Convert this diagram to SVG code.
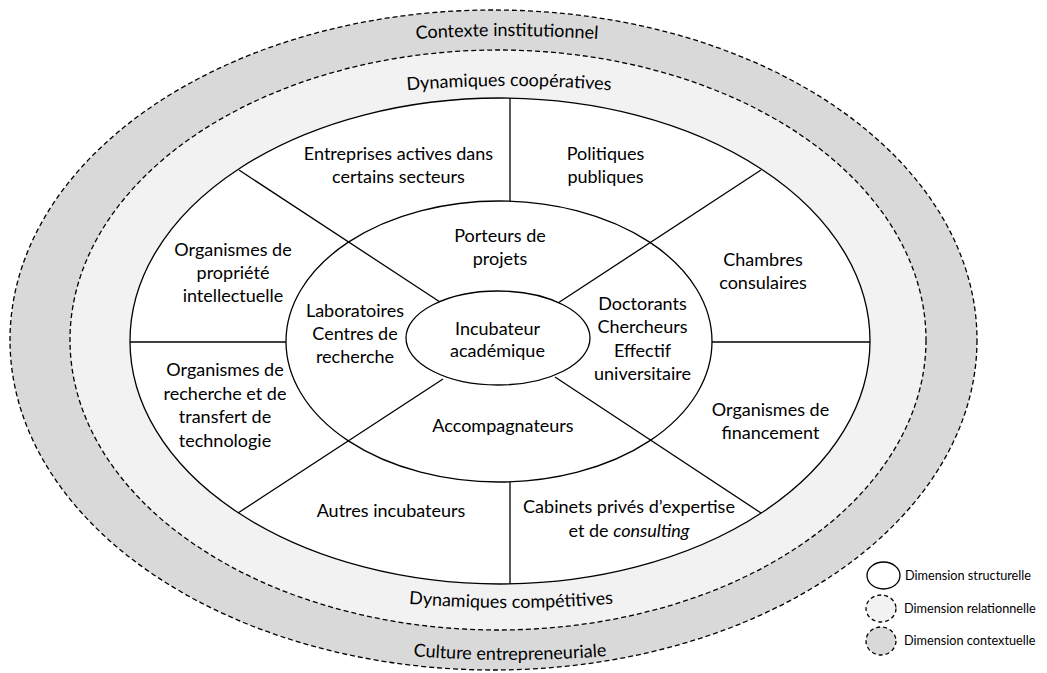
<svg xmlns="http://www.w3.org/2000/svg" width="1047" height="673" viewBox="0 0 1047 673">
<style>
.t{font-family:Lato,"Open Sans","Liberation Sans",sans-serif;font-size:18px;fill:#000;text-anchor:middle}
.lg{font-family:Lato,"Open Sans","Liberation Sans",sans-serif;font-size:12.7px;fill:#000}
.dash{stroke:#000;stroke-width:1.3;stroke-dasharray:5 3}
.solid{stroke:#000;stroke-width:1.3}
.ln{stroke:#000;stroke-width:1.3;fill:none}
</style>
<defs>
<path id="p1" d="M 380 42 Q 507 30 634 42"/>
<path id="p2" d="M 380 93 Q 509 79 638 93"/>
<path id="p3" d="M 380 601 Q 511 615 642 601"/>
<path id="p4" d="M 380 653 Q 510 667 640 653"/>
</defs>
<rect width="1047" height="673" fill="#fff"/>
<g id="contextuelle">
<ellipse cx="493.5" cy="340" rx="483.5" ry="330" fill="#d9d9d9" class="dash"/>
<text class="t"><textPath href="#p1" startOffset="50%">Contexte institutionnel</textPath></text>
<text class="t"><textPath href="#p4" startOffset="50%">Culture entrepreneuriale</textPath></text>
</g>
<g id="relationnelle">
<ellipse cx="498" cy="340" rx="428" ry="290" fill="#f2f2f2" class="dash"/>
<text class="t"><textPath href="#p2" startOffset="50%">Dynamiques coopératives</textPath></text>
<text class="t"><textPath href="#p3" startOffset="50%">Dynamiques compétitives</textPath></text>
</g>
<g id="structurelle">
<ellipse cx="500" cy="341" rx="370" ry="243" fill="#fff" class="solid"/>
</g>
<g id="acteurs-proches">
<ellipse cx="499" cy="341.5" rx="213" ry="140.5" fill="none" class="solid"/>
</g>
<g id="connectors">
<line class="ln" x1="510" y1="98" x2="510" y2="201"/>
<line class="ln" x1="510" y1="482" x2="510" y2="584"/>
<line class="ln" x1="130" y1="342" x2="286" y2="342"/>
<line class="ln" x1="712" y1="342" x2="870" y2="342"/>
<line class="ln" x1="239" y1="170" x2="440" y2="302"/>
<line class="ln" x1="761" y1="170" x2="558" y2="303"/>
<line class="ln" x1="238" y1="513" x2="443" y2="379"/>
<line class="ln" x1="761" y1="513" x2="555" y2="377"/>
</g>
<g id="incubateur">
<ellipse cx="498" cy="338" rx="92" ry="47" fill="#fff" class="solid"/>
<text class="t" x="497.5" y="335">Incubateur</text>
<text class="t" x="497.5" y="357">académique</text>
</g>
<g id="entreprises">
<text class="t" x="398.5" y="160">Entreprises actives dans</text>
<text class="t" x="398.5" y="183">certains secteurs</text>
</g>
<g id="politiques">
<text class="t" x="605.5" y="160">Politiques</text>
<text class="t" x="605.5" y="183">publiques</text>
</g>
<g id="propriete">
<text class="t" x="233" y="256">Organismes de</text>
<text class="t" x="233" y="279">propriété</text>
<text class="t" x="233" y="302">intellectuelle</text>
</g>
<g id="porteurs">
<text class="t" x="500" y="242">Porteurs de</text>
<text class="t" x="500" y="265">projets</text>
</g>
<g id="chambres">
<text class="t" x="763" y="266">Chambres</text>
<text class="t" x="763" y="289">consulaires</text>
</g>
<g id="laboratoires">
<text class="t" x="355" y="317">Laboratoires</text>
<text class="t" x="355" y="340">Centres de</text>
<text class="t" x="355" y="363">recherche</text>
</g>
<g id="doctorants">
<text class="t" x="642.5" y="310">Doctorants</text>
<text class="t" x="642.5" y="333">Chercheurs</text>
<text class="t" x="642.5" y="357">Effectif</text>
<text class="t" x="642.5" y="380">universitaire</text>
</g>
<g id="recherche-transfert">
<text class="t" x="225" y="376">Organismes de</text>
<text class="t" x="225" y="400">recherche et de</text>
<text class="t" x="225" y="423">transfert de</text>
<text class="t" x="225" y="447">technologie</text>
</g>
<g id="accompagnateurs">
<text class="t" x="503" y="432">Accompagnateurs</text>
</g>
<g id="financement">
<text class="t" x="770.5" y="416">Organismes de</text>
<text class="t" x="770.5" y="439">financement</text>
</g>
<g id="autres-incubateurs">
<text class="t" x="391" y="517">Autres incubateurs</text>
</g>
<g id="cabinets">
<text class="t" x="629" y="513">Cabinets privés d’expertise</text>
<text class="t" x="629" y="537">et de <tspan font-style="italic">consulting</tspan></text>
</g>
<g id="legende">
<ellipse cx="883.5" cy="575.5" rx="16.5" ry="13.5" fill="#fff" stroke="#000" stroke-width="1.3"/>
<ellipse cx="881" cy="608.5" rx="15" ry="13.5" fill="#f2f2f2" stroke="#000" stroke-width="1.3" stroke-dasharray="4 3"/>
<ellipse cx="881" cy="641" rx="15" ry="14" fill="#d9d9d9" stroke="#000" stroke-width="1.3" stroke-dasharray="4 3"/>
<text class="lg" x="905" y="580">Dimension structurelle</text>
<text class="lg" x="904" y="613">Dimension relationnelle</text>
<text class="lg" x="904" y="645">Dimension contextuelle</text>
</g>
</svg>
